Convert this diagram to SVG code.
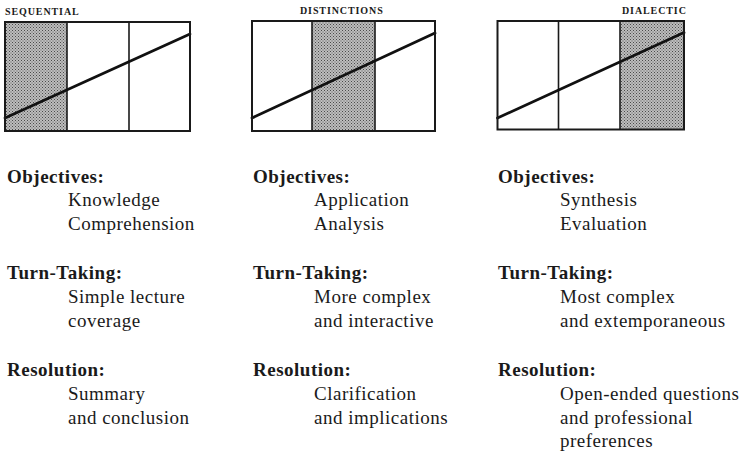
<svg xmlns="http://www.w3.org/2000/svg" width="743" height="453" viewBox="0 0 743 453">
<defs>
<pattern id="stipple" width="3" height="3" patternUnits="userSpaceOnUse">
<rect width="3" height="3" fill="#bdbdbd"/>
<rect x="0" y="0" width="1" height="1" fill="#4a4a4a"/>
<rect x="1.5" y="1.5" width="1" height="1" fill="#5a5a5a"/>
</pattern>
</defs>
<style>
.frame{fill:none;stroke:#1a1a1a;stroke-width:2}
.div{stroke:#1a1a1a;stroke-width:1.6}
.diag{stroke:#111;stroke-width:2.8;stroke-linecap:round}
.shade{fill:url(#stipple)}
.title{font-family:"Liberation Serif","Times New Roman",serif;font-weight:bold;font-size:10px;letter-spacing:0.9px;fill:#1a1a1a}
.head{font-family:"Liberation Serif","Times New Roman",serif;font-weight:bold;font-size:19px;letter-spacing:0.5px;fill:#1a1a1a}
.item{font-family:"Liberation Serif","Times New Roman",serif;font-size:19px;letter-spacing:0.5px;fill:#1a1a1a}
</style>
<rect width="743" height="453" fill="#fff"/>

<g id="panel-sequential">
<text class="title" x="5" y="15">SEQUENTIAL</text>
<rect class="shade" x="5" y="22" width="62" height="109"/>
<line class="div" x1="67" y1="22" x2="67" y2="131"/>
<line class="div" x1="129" y1="22" x2="129" y2="131"/>
<line class="diag" x1="5" y1="118" x2="190" y2="34"/>
<rect class="frame" x="5" y="22" width="185" height="109"/>
</g>

<g id="panel-distinctions">
<text class="title" x="300" y="14">DISTINCTIONS</text>
<rect class="shade" x="312" y="21" width="63" height="110"/>
<line class="div" x1="312" y1="21" x2="312" y2="131"/>
<line class="div" x1="375" y1="21" x2="375" y2="131"/>
<line class="diag" x1="252" y1="118" x2="435" y2="33"/>
<rect class="frame" x="252" y="21" width="183" height="110"/>
</g>

<g id="panel-dialectic">
<text class="title" x="622" y="13.5">DIALECTIC</text>
<rect class="shade" x="620" y="21" width="64" height="108.5"/>
<line class="div" x1="558.5" y1="21" x2="558.5" y2="129.5"/>
<line class="div" x1="620" y1="21" x2="620" y2="129.5"/>
<line class="diag" x1="497.5" y1="118" x2="684" y2="32.5"/>
<rect class="frame" x="497.5" y="21" width="186.5" height="108.5"/>
</g>

<g id="text-sequential">
<text class="head" x="7" y="183">Objectives:</text>
<text class="item" x="68" y="206">Knowledge</text>
<text class="item" x="68" y="230">Comprehension</text>
<text class="head" x="7" y="279">Turn-Taking:</text>
<text class="item" x="68" y="303">Simple lecture</text>
<text class="item" x="68" y="327">coverage</text>
<text class="head" x="7" y="376">Resolution:</text>
<text class="item" x="68" y="400">Summary</text>
<text class="item" x="68" y="424">and conclusion</text>
</g>

<g id="text-distinctions">
<text class="head" x="253" y="183">Objectives:</text>
<text class="item" x="314" y="206">Application</text>
<text class="item" x="314" y="230">Analysis</text>
<text class="head" x="253" y="279">Turn-Taking:</text>
<text class="item" x="314" y="303">More complex</text>
<text class="item" x="314" y="327">and interactive</text>
<text class="head" x="253" y="376">Resolution:</text>
<text class="item" x="314" y="400">Clarification</text>
<text class="item" x="314" y="424">and implications</text>
</g>

<g id="text-dialectic">
<text class="head" x="498" y="183">Objectives:</text>
<text class="item" x="560" y="206">Synthesis</text>
<text class="item" x="560" y="230">Evaluation</text>
<text class="head" x="498" y="279">Turn-Taking:</text>
<text class="item" x="560" y="303">Most complex</text>
<text class="item" x="560" y="327">and extemporaneous</text>
<text class="head" x="498" y="376">Resolution:</text>
<text class="item" x="560" y="400">Open-ended questions</text>
<text class="item" x="560" y="424">and professional</text>
<text class="item" x="560" y="447">preferences</text>
</g>
</svg>
